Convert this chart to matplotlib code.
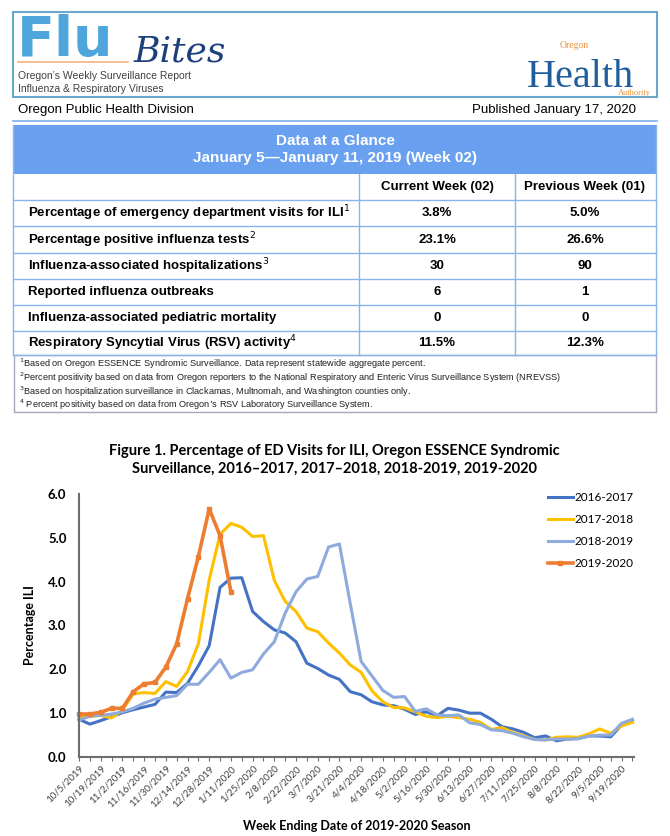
import matplotlib
matplotlib.use('Agg')
import matplotlib.pyplot as plt
from matplotlib.patches import Rectangle
from matplotlib.lines import Line2D
from matplotlib import font_manager
import numpy as np

# page size in pixels
W, H = 670, 836


def fx(x):
    return x / W


def fy(y):
    return 1 - y / H


names = {f.name for f in font_manager.fontManager.ttflist}
narrow = 'Liberation Sans Narrow' if 'Liberation Sans Narrow' in names else 'Liberation Sans'
calib = 'Lato'

# Data at a glance table
table_rows = ['Percentage of emergency department visits for ILI$^{1}$',
              'Percentage positive influenza tests$^{2}$',
              'Influenza-associated hospitalizations$^{3}$',
              'Reported influenza outbreaks',
              'Influenza-associated pediatric mortality',
              'Respiratory Syncytial Virus (RSV) activity$^{4}$']
current_week = ['3.8%', '23.1%', '30', '6', '0', '11.5%']
previous_week = ['5.0%', '26.6%', '90', '1', '0', '12.3%']
footnotes = ['$^{1}$Based on Oregon ESSENCE Syndromic Surveillance. Data represent statewide aggregate percent.',
             '$^{2}$Percent positivity based on data from Oregon reporters to the National Respiratory and Enteric Virus Surveillance System (NREVSS)',
             '$^{3}$Based on hospitalization surveillance in Clackamas, Multnomah, and Washington counties only.',
             '$^{4}$ Percent positivity based on data from Oregon\u2019s RSV Laboratory Surveillance System.']

# Figure 1 data: % ED visits for ILI by week (52 weeks, 10/5 .. 9/26)
s2016 = [0.86, 0.75, 0.83, 0.92, 1.01, 1.08, 1.14, 1.20, 1.48, 1.47, 1.68, 2.08, 2.54,
         3.87, 4.08, 4.09, 3.32, 3.09, 2.90, 2.83, 2.63, 2.14, 2.02, 1.87, 1.77, 1.49,
         1.42, 1.26, 1.19, 1.17, 1.09, 0.97, 1.03, 0.94, 1.11, 1.07, 1.00, 1.00, 0.86,
         0.69, 0.64, 0.56, 0.44, 0.48, 0.37, 0.41, 0.42, 0.48, 0.48, 0.46, 0.73, 0.84]
s2017 = [0.92, 0.93, 0.95, 0.89, 1.07, 1.44, 1.47, 1.45, 1.72, 1.61, 1.95, 2.58, 4.04,
         5.08, 5.33, 5.24, 5.03, 5.05, 4.03, 3.55, 3.32, 2.94, 2.86, 2.60, 2.37, 2.10,
         1.93, 1.51, 1.26, 1.13, 1.12, 1.03, 0.93, 0.90, 0.93, 0.90, 0.86, 0.79, 0.63,
         0.67, 0.56, 0.48, 0.40, 0.39, 0.45, 0.46, 0.45, 0.53, 0.64, 0.54, 0.71, 0.79]
s2018 = [0.84, 0.93, 0.95, 0.98, 1.03, 1.11, 1.23, 1.32, 1.36, 1.40, 1.66, 1.66, 1.93,
         2.22, 1.80, 1.93, 1.99, 2.35, 2.63, 3.28, 3.77, 4.06, 4.12, 4.79, 4.86, 3.50,
         2.18, 1.85, 1.52, 1.36, 1.38, 1.04, 1.10, 0.96, 0.94, 0.96, 0.78, 0.74, 0.62,
         0.60, 0.54, 0.46, 0.40, 0.39, 0.41, 0.41, 0.42, 0.48, 0.50, 0.50, 0.77, 0.86]
s2019 = [0.98, 0.98, 1.02, 1.11, 1.11, 1.49, 1.67, 1.70, 2.05, 2.58, 3.61, 4.57, 5.66,
         5.05, 3.77]
week_labels = ['10/5/2019', '10/19/2019', '11/2/2019', '11/16/2019', '11/30/2019',
               '12/14/2019', '12/28/2019', '1/11/2020', '1/25/2020', '2/8/2020',
               '2/22/2020', '3/7/2020', '3/21/2020', '4/4/2020', '4/18/2020', '5/2/2020',
               '5/16/2020', '5/30/2020', '6/13/2020', '6/27/2020', '7/11/2020',
               '7/25/2020', '8/8/2020', '8/22/2020', '9/5/2020', '9/19/2020']

fig = plt.figure(figsize=(W / 100, H / 100), dpi=100)

# ---- masthead ----
fig.add_artist(Rectangle((fx(13), fy(97)), (657 - 13) / W, (97 - 12) / H,
                         transform=fig.transFigure, fill=False,
                         edgecolor='#6BA6CC', lw=1.5))
fig.text(fx(17), fy(56), 'Flu', fontsize=40, fontweight='heavy', color='#4FA6DD',
         family='DejaVu Sans', va='baseline')
fig.text(fx(134), fy(61), 'Bites', fontsize=26, style='italic', color='#1D3F7A',
         family='DejaVu Serif', va='baseline')
fig.add_artist(Line2D([fx(18), fx(128)], [fy(62), fy(62)], transform=fig.transFigure,
                      color='#F4B183', lw=1.2))
fig.text(fx(18), fy(76), 'Oregon\u2019s Weekly Surveillance Report', fontsize=7.5,
         color='#404040', family='Liberation Sans', va='center')
fig.text(fx(18), fy(89), 'Influenza & Respiratory Viruses', fontsize=7.5,
         color='#404040', family='Liberation Sans', va='center')
fig.text(fx(527), fy(87), 'Health', fontsize=29, family='Liberation Serif',
         color='#1F5E9C', va='baseline')
fig.text(fx(560), fy(46), 'Oregon', fontsize=7, family='Liberation Serif',
         color='#E8913A', va='center')
fig.text(fx(651), fy(93), 'Authority', fontsize=6, family='Liberation Serif',
         color='#E8913A', va='center', ha='right')

fig.text(fx(18), fy(110), 'Oregon Public Health Division', fontsize=9.5,
         family=narrow, va='center')
fig.text(fx(636), fy(110), 'Published January 17, 2020', fontsize=9.5,
         family=narrow, va='center', ha='right')
fig.add_artist(Line2D([fx(13), fx(657)], [fy(121), fy(121)], transform=fig.transFigure,
                      color='#7FAEEA', lw=1.2))

# ---- data at a glance table ----
fig.add_artist(Rectangle((fx(13), fy(174)), (656 - 13) / W, (174 - 125) / H,
                         transform=fig.transFigure, facecolor='#69A1F0',
                         edgecolor='none'))
fig.text(fx(335), fy(141), 'Data at a Glance', fontsize=11, fontweight='bold',
         color='white', family=narrow, ha='center', va='center')
fig.text(fx(335), fy(158), 'January 5\u2014January 11, 2019 (Week 02)', fontsize=11,
         fontweight='bold', color='white', family=narrow, ha='center', va='center')

grid_c = '#8AB4F0'
row_lines = [200, 226, 253, 279, 305, 331]
for yy in row_lines:
    fig.add_artist(Line2D([fx(13), fx(656)], [fy(yy), fy(yy)],
                          transform=fig.transFigure, color=grid_c, lw=1))
for xx in [13, 656]:
    fig.add_artist(Line2D([fx(xx), fx(xx)], [fy(125), fy(355)],
                          transform=fig.transFigure, color=grid_c, lw=1))
for xx in [359, 515]:
    fig.add_artist(Line2D([fx(xx), fx(xx)], [fy(174), fy(355)],
                          transform=fig.transFigure, color=grid_c, lw=1))
fig.add_artist(Line2D([fx(13), fx(656)], [fy(355), fy(355)],
                      transform=fig.transFigure, color=grid_c, lw=1))

fig.text(fx(437), fy(187), 'Current Week (02)', fontsize=9.5, fontweight='bold',
         family=narrow, ha='center', va='center')
fig.text(fx(585), fy(187), 'Previous Week (01)', fontsize=9.5, fontweight='bold',
         family=narrow, ha='center', va='center')
row_centres = [213, 240, 266, 292, 318, 343]
for label, cur, prev, yy in zip(table_rows, current_week, previous_week, row_centres):
    fig.text(fx(28), fy(yy), label, fontsize=9.5, fontweight='bold', family=narrow,
             va='center')
    fig.text(fx(437), fy(yy), cur, fontsize=9.5, fontweight='bold', family=narrow,
             ha='center', va='center')
    fig.text(fx(585), fy(yy), prev, fontsize=9.5, fontweight='bold', family=narrow,
             ha='center', va='center')

# footnotes box
fig.add_artist(Rectangle((fx(14), fy(412)), (656 - 14) / W, (412 - 355) / H,
                         transform=fig.transFigure, fill=False,
                         edgecolor='#A3A9B8', lw=1))
for note, yy in zip(footnotes, [364, 378, 392, 405]):
    fig.text(fx(19), fy(yy), note, fontsize=6.6, family=narrow, va='center',
             color='#202020')

# ---- Figure 1 ----
fig.text(fx(334), fy(451), 'Figure 1. Percentage of ED Visits for ILI, Oregon ESSENCE Syndromic',
         fontsize=10.5, fontweight='bold', family=calib, ha='center', va='center')
fig.text(fx(334), fy(469), 'Surveillance, 2016\u20132017, 2017\u20132018, 2018-2019, 2019-2020',
         fontsize=10.5, fontweight='bold', family=calib, ha='center', va='center')

ax = fig.add_axes([fx(79), fy(757), (634 - 79) / W, (757 - 494) / H])
weeks = np.arange(len(s2016))
ax.plot(weeks, s2016, color='#4472C4', lw=2.2, label='2016-2017', clip_on=False)
ax.plot(weeks, s2017, color='#FFC000', lw=2.2, label='2017-2018', clip_on=False)
ax.plot(weeks, s2018, color='#8FAADC', lw=2.2, label='2018-2019', clip_on=False)
ax.plot(np.arange(len(s2019)), s2019, color='#ED7D31', lw=2.6, marker='s',
        markersize=3.5, label='2019-2020', clip_on=False)

ax.set_xlim(0, 51.15)
ax.set_ylim(0, 6)
for side in ['top', 'right']:
    ax.spines[side].set_visible(False)
for side in ['left', 'bottom']:
    ax.spines[side].set_color('#6E6E6E')
    ax.spines[side].set_linewidth(1.5)

ax.set_yticks(np.arange(0, 7, 1))
ax.set_yticklabels([f'{v:.1f}' for v in np.arange(0, 7, 1)], fontsize=9.5,
                   fontweight='bold', family=calib)
ax.tick_params(axis='y', length=0, pad=9)

xlabels = []
for i in weeks:
    xlabels.append(week_labels[i // 2] if i % 2 == 0 else '')
ax.set_xticks(weeks)
ax.set_xticklabels(xlabels, rotation=45, ha='right', rotation_mode='anchor',
                   fontsize=7, family=calib, color='#404040')
ax.tick_params(axis='x', length=3, width=0.8, color='#6E6E6E', pad=2)

ax.legend(loc='upper left', bbox_to_anchor=(fx(543), fy(487)),
          bbox_transform=fig.transFigure, frameon=False,
          prop={'family': calib, 'size': 8.5}, handlelength=2.1,
          handletextpad=0.2, labelspacing=0.95, borderaxespad=0)

fig.text(fx(30), fy(625), 'Percentage ILI', rotation=90, fontsize=9, fontweight='bold',
         family=calib, ha='center', va='center')
fig.text(fx(357), fy(826), 'Week Ending Date of 2019-2020 Season', fontsize=9,
         fontweight='bold', family=calib, ha='center', va='center')

fig.savefig('out.png', dpi=100)
